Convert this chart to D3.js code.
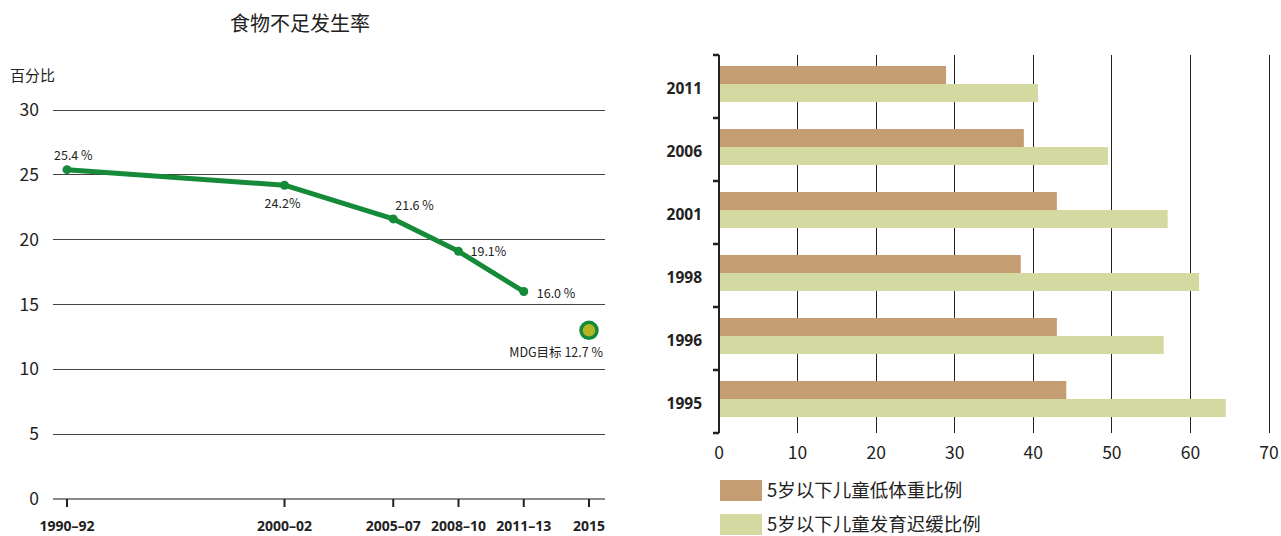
<!DOCTYPE html>
<html><head><meta charset="utf-8">
<script src="https://cdn.jsdelivr.net/npm/d3@7"></script>
<style>
body{margin:0;background:#fff;}
svg{display:block;}
.cjk{font-family:"Noto Sans CJK SC","Noto Sans",sans-serif;}
.nar{font-family:"Liberation Sans Narrow","Arial Narrow","Noto Sans",sans-serif;}
</style></head>
<body>
<svg id="c" width="1281" height="536"></svg>
<script>
// ---- Data: left line chart ----
const periodLabels = ["1990–92","2000–02","2005–07","2008–10","2011–13","2015"];
const periodMid = [1991, 2001, 2006, 2009, 2012, 2015];
const prevalence = [25.4, 24.2, 21.6, 19.1, 16.0];
const pointLabels = ["25.4 %","24.2%","21.6 %","19.1%","16.0 %"];
const mdgTarget = 12.7;
const mdgLabel = "MDG目标 12.7 %";
const yTicksLeft = [0,5,10,15,20,25,30];

// ---- Data: right bar chart ----
const years = ["2011","2006","2001","1998","1996","1995"];
const underweight = [28.9, 38.8, 43.0, 38.4, 43.0, 44.2];
const stunting = [40.6, 49.5, 57.1, 61.1, 56.6, 64.5];
const xTicksRight = [0,10,20,30,40,50,60,70];
const seriesNames = ["5岁以下儿童低体重比例","5岁以下儿童发育迟缓比例"];
const seriesColors = ["#c59d72","#d4d9a1"];

const svg = d3.select("#c");

// ===== Left chart =====
const xL = d3.scaleLinear().domain([1991, 2015]).range([67, 589]);
const yL = d3.scaleLinear().domain([0, 30]).range([499, 110]);

svg.append("text").attr("class","cjk").attr("x",300).attr("y",31)
  .attr("text-anchor","middle").attr("font-size",20).attr("fill","#222").text("食物不足发生率");
svg.append("text").attr("class","cjk").attr("x",10).attr("y",81)
  .attr("font-size",15).attr("fill","#222").text("百分比");

const gl = svg.append("g");
gl.selectAll("line.grid").data(yTicksLeft).join("line")
  .attr("x1",53).attr("x2",605)
  .attr("y1",d=>yL(d)).attr("y2",d=>yL(d))
  .attr("stroke",d=>d===0?"#888":"#444").attr("stroke-width",d=>d===0?1.5:1)
  .attr("shape-rendering","crispEdges");
gl.selectAll("text.yt").data(yTicksLeft).join("text")
  .attr("class","cjk").attr("x",39).attr("y",d=>yL(d)).attr("dy","0.35em")
  .attr("text-anchor","end").attr("font-size",17.5).attr("fill","#222").text(d=>d);

// bottom ticks
gl.selectAll("line.xt").data(periodMid).join("line")
  .attr("x1",d=>xL(d)).attr("x2",d=>xL(d)).attr("y1",yL(0)).attr("y2",yL(0)+8)
  .attr("stroke","#222").attr("stroke-width",2);
gl.selectAll("text.xl").data(periodLabels).join("text")
  .attr("class","nar").attr("x",(d,i)=>xL(periodMid[i])).attr("y",531)
  .attr("text-anchor","middle").attr("font-size",14).attr("font-weight","bold")
  .attr("fill","#222").text(d=>d);

// line
const lineData = prevalence.map((v,i)=>[periodMid[i], v]);
gl.append("path").datum(lineData)
  .attr("d", d3.line().x(d=>xL(d[0])).y(d=>yL(d[1])))
  .attr("fill","none").attr("stroke","#158a38").attr("stroke-width",5)
  .attr("stroke-linejoin","round");
gl.selectAll("circle.pt").data(lineData).join("circle")
  .attr("cx",d=>xL(d[0])).attr("cy",d=>yL(d[1])).attr("r",4.5).attr("fill","#158a38");

// point labels (offsets)
const lblOff = [[-13,-14,"start"],[-2,18,"middle"],[2,-13,"start"],[12,0,"start"],[13,2,"start"]];
gl.selectAll("text.pl").data(lineData).join("text")
  .attr("class","cjk").attr("font-size",12.5).attr("fill","#222")
  .attr("x",(d,i)=>xL(d[0])+lblOff[i][0]).attr("y",(d,i)=>yL(d[1])+lblOff[i][1])
  .attr("dy","0.35em").attr("text-anchor",(d,i)=>lblOff[i][2])
  .text((d,i)=>pointLabels[i]);

// MDG target
gl.append("circle").attr("cx",xL(2015)).attr("cy",yL(mdgTarget)-4).attr("r",8)
  .attr("fill","#b4b324").attr("stroke","#158a38").attr("stroke-width",3.5);
gl.append("text").attr("class","cjk").attr("x",603).attr("y",yL(mdgTarget)+18)
  .attr("dy","0.35em").attr("text-anchor","end").attr("font-size",12.5).attr("fill","#222")
  .text(mdgLabel);

// ===== Right chart =====
const xR = d3.scaleLinear().domain([0,70]).range([719,1269]);
const yR = d3.scaleBand().domain(years).range([55,433]);
const ySub = d3.scaleBand().domain([0,1]).range([11,47]);

const gr = svg.append("g");
gr.selectAll("line.vg").data(xTicksRight.slice(1)).join("line")
  .attr("x1",d=>xR(d)).attr("x2",d=>xR(d)).attr("y1",55).attr("y2",433)
  .attr("stroke","#222").attr("stroke-width",1).attr("shape-rendering","crispEdges");

const groups = gr.selectAll("g.grp").data(years).join("g")
  .attr("transform",d=>`translate(0,${yR(d)})`);
groups.append("rect").attr("x",xR(0)).attr("y",ySub(0)).attr("height",ySub.bandwidth())
  .attr("width",(d,i)=>xR(underweight[i])-xR(0)).attr("fill",seriesColors[0]);
groups.append("rect").attr("x",xR(0)).attr("y",ySub(1)).attr("height",ySub.bandwidth())
  .attr("width",(d,i)=>xR(stunting[i])-xR(0)).attr("fill",seriesColors[1]);
groups.append("text").attr("class","nar").attr("x",702).attr("y",yR.bandwidth()/2+2)
  .attr("dy","0.35em").attr("text-anchor","end").attr("font-size",15.5).attr("font-weight","bold")
  .attr("fill","#222").text(d=>d);

// left axis line with ticks at boundaries
gr.append("line").attr("x1",xR(0)).attr("x2",xR(0)).attr("y1",55).attr("y2",433)
  .attr("stroke","#222").attr("stroke-width",2);
const bounds = years.map(d=>yR(d)).concat([433]);
gr.selectAll("line.bt").data(bounds).join("line")
  .attr("x1",xR(0)-6).attr("x2",xR(0)).attr("y1",d=>d).attr("y2",d=>d)
  .attr("stroke","#222").attr("stroke-width",2.5);

gr.selectAll("text.xr").data(xTicksRight).join("text")
  .attr("class","cjk").attr("x",d=>xR(d)).attr("y",453).attr("dy","0.35em")
  .attr("text-anchor","middle").attr("font-size",17.5).attr("fill","#222").text(d=>d);

// legend
const lg = gr.selectAll("g.lg").data(seriesNames).join("g")
  .attr("transform",(d,i)=>`translate(720,${480+i*34})`);
lg.append("rect").attr("width",42).attr("height",21).attr("fill",(d,i)=>seriesColors[i]);
lg.append("text").attr("class","cjk").attr("x",47).attr("y",11).attr("dy","0.35em")
  .attr("font-size",18.5).attr("fill","#222").text(d=>d);
</script>
</body></html>
